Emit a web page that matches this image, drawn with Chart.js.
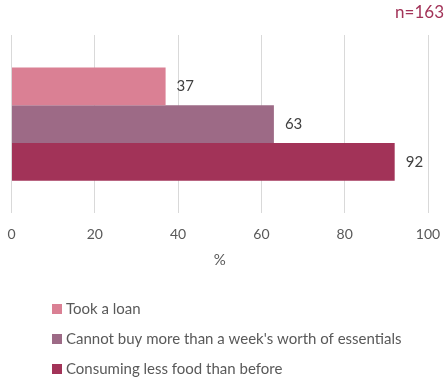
<!DOCTYPE html>
<html>
<head>
<meta charset="utf-8">
<script src="https://cdn.jsdelivr.net/npm/chart.js@4.4.1/dist/chart.umd.min.js"></script>
<style>
  html, body { margin: 0; padding: 0; background: #fff; }
  #wrap { width: 444px; height: 380px; position: relative; }
</style>
</head>
<body>
<div id="wrap"><canvas id="chart"></canvas></div>
<script>
// Chart data
const categories = [''];
const seriesNames = ['Took a loan', "Cannot buy more than a week's worth of essentials", 'Consuming less food than before'];
const seriesValues = [[37], [63], [92]];
const seriesColors = ['#da8094', '#9d6a86', '#a23358'];
const xTicks = [0, 20, 40, 60, 80, 100];
const sampleNote = 'n=163';

const FONT = 'Lato, "Open Sans", sans-serif';

// labels at the end of each bar
const valueLabels = {
    id: 'valueLabels',
    afterDatasetsDraw(chart) {
        const ctx = chart.ctx;
        ctx.save();
        ctx.font = '15px ' + FONT;
        ctx.fillStyle = '#404040';
        ctx.textBaseline = 'middle';
        chart.data.datasets.forEach((ds, i) => {
            chart.getDatasetMeta(i).data.forEach((bar, j) => {
                ctx.fillText(ds.data[j], bar.x + 11, bar.y);
            });
        });
        ctx.restore();
    }
};

// "n=" note and a vertical legend under the axis
const extras = {
    id: 'extras',
    afterDraw(chart) {
        const ctx = chart.ctx;
        ctx.save();
        ctx.font = '17px ' + FONT;
        ctx.fillStyle = '#a23358';
        ctx.textAlign = 'right';
        ctx.textBaseline = 'middle';
        ctx.fillText(sampleNote, 444, 13);

        ctx.font = '15px ' + FONT;
        ctx.textAlign = 'left';
        seriesNames.forEach((name, i) => {
            const y = 309 + i * 30;
            ctx.fillStyle = seriesColors[i];
            ctx.fillRect(52, y - 5, 10, 10);
            ctx.fillStyle = '#595959';
            ctx.fillText(name, 66, y);
        });
        ctx.restore();
    }
};

new Chart(document.getElementById('chart'), {
    type: 'bar',
    data: {
        labels: categories,
        datasets: seriesNames.map((name, i) => ({
            label: name,
            data: seriesValues[i],
            backgroundColor: seriesColors[i],
            borderWidth: 0,
            categoryPercentage: 0.635,
            barPercentage: 1
        }))
    },
    options: {
        indexAxis: 'y',
        responsive: true,
        maintainAspectRatio: false,
        animation: false,
        layout: { padding: { top: 35, left: 11.5, right: 16, bottom: 111 } },
        plugins: {
            legend: { display: false },
            tooltip: { enabled: false }
        },
        scales: {
            x: {
                min: 0,
                max: 100,
                afterBuildTicks(axis) { axis.ticks = xTicks.map(v => ({ value: v })); },
                afterFit(axis) { axis.paddingLeft = 0; axis.paddingRight = 0; },
                grid: { color: '#d9d9d9', lineWidth: 1, drawTicks: false },
                border: { display: false },
                ticks: { color: '#595959', font: { family: FONT, size: 14 }, padding: 13 },
                title: { display: true, text: '%', color: '#595959', font: { family: FONT, size: 15 }, padding: { top: -5, bottom: 0 } }
            },
            y: { display: false }
        }
    },
    plugins: [valueLabels, extras]
});
</script>
</body>
</html>
